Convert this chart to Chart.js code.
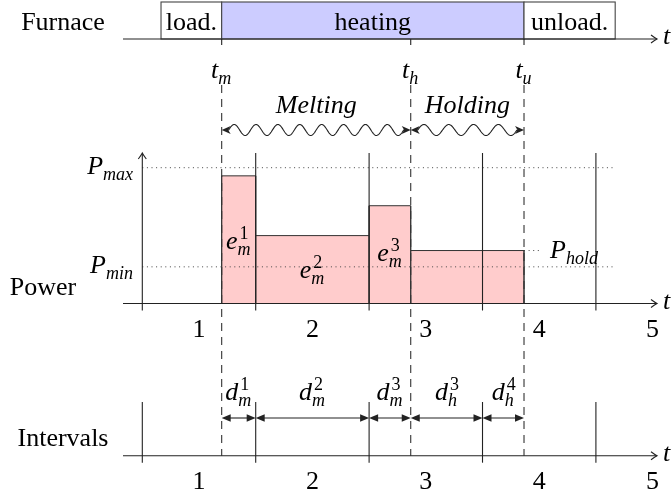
<!DOCTYPE html>
<html>
<head>
<meta charset="utf-8">
<script src="https://cdn.jsdelivr.net/npm/chart.js@4.4.1/dist/chart.umd.min.js"></script>
<style>
  html, body { margin: 0; padding: 0; background: #fff; }
  #wrap { width: 671px; height: 502px; }
</style>
</head>
<body>
<div id="wrap"><canvas id="chart" width="671" height="502"></canvas></div>
<script>
// time is in interval units, power in % of P_max
const intervalBounds = [0, 1, 2, 3, 4];
const intervalLabels = ["1", "2", "3", "4", "5"];

const phaseBounds = [0.165, 0.70, 3.366, 4.17];
const phaseNames = ["load.", "heating", "unload."];

const eventTimes = [0.70, 2.367, 3.366];
const eventLabels = ["m", "h", "u"];
const modeNames = ["Melting", "Holding"];

const blockStart = [0.70, 1, 2, 2.367];
const blockEnd = [1, 2, 2.367, 3.366];
const blockPower = [94, 50, 72, 39];
const blockLabels = ["1", "2", "3", ""];

const pMax = 100;
const pMin = 27;
const pHold = 39;

const durStart = [0.70, 1, 2, 2.367, 3];
const durEnd = [1, 2, 2.367, 3, 3.366];
const durSub = ["m", "m", "m", "h", "h"];
const durSup = ["1", "2", "3", "3", "4"];

// layout rows (pixels)
const ROW = {
  boxTop: 2, furnace: 39, eventLabel: 78, dashTop: 85, modeText: 113, wave: 130,
  powerTop: 153, durTop: 402, durArrow: 418, durLabel: 400, intervals: 455.7
};
const AXIS_X0 = 123, AXIS_X1 = 657;
const INK = "#222";
const SERIF = '"Liberation Serif", "DejaVu Serif", serif';
const BIG = 26, SMALL = 18;

function font(size, italic) {
  return (italic ? "italic " : "") + size + "px " + SERIF;
}

function text(ctx, s, x, y, align, italic) {
  ctx.font = font(BIG, italic);
  ctx.textAlign = align || "center";
  ctx.textBaseline = "alphabetic";
  ctx.fillStyle = "#000";
  ctx.fillText(s, x, y);
}

function mathText(ctx, base, sub, sup, x, y, align) {
  ctx.font = font(BIG, true);
  const wb = ctx.measureText(base).width;
  ctx.font = font(SMALL, true);
  const ws = sub ? ctx.measureText(sub).width : 0;
  ctx.font = font(SMALL, false);
  const wp = sup ? ctx.measureText(sup).width : 0;
  const w = wb + 1 + Math.max(ws, wp);
  const x0 = align === "left" ? x : align === "right" ? x - w : x - w / 2;
  ctx.textAlign = "left";
  ctx.textBaseline = "alphabetic";
  ctx.fillStyle = "#000";
  ctx.font = font(BIG, true);
  ctx.fillText(base, x0, y);
  if (sub) {
    ctx.font = font(SMALL, true);
    ctx.fillText(sub, x0 + wb, y + 6);
  }
  if (sup) {
    ctx.font = font(SMALL, false);
    ctx.fillText(sup, x0 + wb + 2, y - 10);
  }
}

function line(ctx, x1, y1, x2, y2) {
  ctx.beginPath();
  ctx.moveTo(x1, y1);
  ctx.lineTo(x2, y2);
  ctx.stroke();
}

function openHead(ctx, x, y, dx, dy) {
  // dx,dy: unit direction of the arrow
  const px = -dy, py = dx;
  ctx.beginPath();
  ctx.moveTo(x - dx * 6 + px * 4, y - dy * 6 + py * 4);
  ctx.quadraticCurveTo(x - dx * 2 + px * 1, y - dy * 2 + py * 1, x, y);
  ctx.quadraticCurveTo(x - dx * 2 - px * 1, y - dy * 2 - py * 1, x - dx * 6 - px * 4, y - dy * 6 - py * 4);
  ctx.stroke();
}

function filledHead(ctx, x, y, dir, len, half, inset) {
  ctx.beginPath();
  ctx.moveTo(x, y);
  ctx.lineTo(x - dir * len, y - half);
  ctx.lineTo(x - dir * (len - inset), y);
  ctx.lineTo(x - dir * len, y + half);
  ctx.closePath();
  ctx.fill();
}

function axis(ctx, y) {
  line(ctx, AXIS_X0, y, AXIS_X1, y);
  openHead(ctx, AXIS_X1, y, 1, 0);
  mathText(ctx, "t", "", "", AXIS_X1 + 6, y + 5, "left");
}

function wave(ctx, x1, x2, y) {
  const lead = 7, amp = 5.5, period = 23;
  const a = x1 + lead, b = x2 - lead;
  const n = Math.max(1, Math.round((b - a) / period));
  const p = (b - a) / n;
  ctx.beginPath();
  ctx.moveTo(x1 + 3, y);
  ctx.lineTo(a, y);
  for (let px = a; px <= b; px += 0.5) {
    ctx.lineTo(px, y - amp * Math.sin(2 * Math.PI * (px - a) / p));
  }
  ctx.lineTo(x2 - 3, y);
  ctx.stroke();
  filledHead(ctx, x1, y, -1, 9, 4, 2.5);
  filledHead(ctx, x2, y, 1, 9, 4, 2.5);
}

function dimArrow(ctx, x1, x2, y) {
  line(ctx, x1 + 4, y, x2 - 4, y);
  filledHead(ctx, x1, y, -1, 9, 3.8, 0);
  filledHead(ctx, x2, y, 1, 9, 3.8, 0);
}

const diagram = {
  id: "diagram",
  afterDatasetsDraw(chart) {
    const ctx = chart.ctx;
    const xs = chart.scales.x, ys = chart.scales.y;
    const X = (v) => xs.getPixelForValue(v);
    const Y = (v) => ys.getPixelForValue(v);
    const base = Y(0);

    ctx.save();
    ctx.strokeStyle = INK;
    ctx.fillStyle = INK;
    ctx.lineWidth = 1.1;

    // ---- furnace row
    text(ctx, "Furnace", 63, 30, "center");
    phaseNames.forEach((name, i) => {
      const x1 = X(phaseBounds[i]), x2 = X(phaseBounds[i + 1]);
      ctx.fillStyle = name === "heating" ? "#ccccff" : "#ffffff";
      ctx.fillRect(x1, ROW.boxTop, x2 - x1, ROW.furnace - ROW.boxTop);
      ctx.strokeStyle = "#444";
      ctx.strokeRect(x1, ROW.boxTop, x2 - x1, ROW.furnace - ROW.boxTop);
      text(ctx, name, (x1 + x2) / 2, 30, "center");
    });
    ctx.strokeStyle = INK;
    ctx.fillStyle = INK;
    axis(ctx, ROW.furnace);
    eventTimes.forEach((t, i) => {
      line(ctx, X(t), ROW.furnace, X(t), ROW.furnace + 6);
      mathText(ctx, "t", eventLabels[i], "", X(t), ROW.eventLabel, "center");
    });

    // ---- dashed event lines
    ctx.setLineDash([8, 6]);
    ctx.strokeStyle = "#333";
    eventTimes.forEach((t) => line(ctx, X(t), ROW.dashTop, X(t), ROW.intervals));
    ctx.setLineDash([]);
    ctx.strokeStyle = INK;
    ctx.fillStyle = INK;

    // ---- melting / holding
    modeNames.forEach((name, i) => {
      const x1 = X(eventTimes[i]), x2 = X(eventTimes[i + 1]);
      text(ctx, name, (x1 + x2) / 2, ROW.modeText, "center", true);
      ctx.fillStyle = INK;
      wave(ctx, x1, x2, ROW.wave);
    });

    // ---- power panel
    ctx.lineWidth = 1;
    ctx.strokeStyle = "#333";
    blockStart.forEach((s, i) => {
      line(ctx, X(s), base, X(s), Y(blockPower[i]));
      line(ctx, X(blockEnd[i]), base, X(blockEnd[i]), Y(blockPower[i]));
    });

    ctx.lineWidth = 1;
    ctx.strokeStyle = "#444";
    ctx.setLineDash([1, 3.6]);
    line(ctx, X(0), Y(pMax), X(phaseBounds[3]), Y(pMax));
    line(ctx, X(0), Y(pMin), X(phaseBounds[3]), Y(pMin));
    line(ctx, X(eventTimes[2]), Y(pHold), X(eventTimes[2]) + 16, Y(pHold));
    ctx.setLineDash([]);

    ctx.strokeStyle = INK;
    ctx.lineWidth = 1.1;
    intervalBounds.forEach((b, i) => {
      line(ctx, X(b), base + 7, X(b), i === 0 ? ROW.powerTop + 1 : ROW.powerTop);
    });
    openHead(ctx, X(0), ROW.powerTop, 0, -1);
    axis(ctx, base);

    text(ctx, "Power", 43, 295, "center");
    mathText(ctx, "P", "max", "", 134, Y(pMax) + 6, "right");
    mathText(ctx, "P", "min", "", 134, Y(pMin) + 6, "right");
    mathText(ctx, "P", "hold", "", 550, Y(pHold) + 7, "left");

    blockLabels.forEach((lab, i) => {
      if (!lab) return;
      const cx = X((blockStart[i] + blockEnd[i]) / 2);
      const yb = [249, 278, 261][i];
      mathText(ctx, "e", "m", lab, cx, yb, "center");
    });

    intervalLabels.forEach((lab, i) => {
      text(ctx, lab, X(intervalBounds[i] + 0.5), base + 33, "center");
    });

    // ---- intervals panel
    ctx.fillStyle = INK;
    intervalBounds.forEach((b) => line(ctx, X(b), ROW.durTop, X(b), ROW.intervals + 7));
    axis(ctx, ROW.intervals);
    text(ctx, "Intervals", 63, 446, "center");
    durStart.forEach((s, i) => {
      ctx.fillStyle = INK;
      dimArrow(ctx, X(s), X(durEnd[i]), ROW.durArrow);
      mathText(ctx, "d", durSub[i], durSup[i], X((s + durEnd[i]) / 2), ROW.durLabel, "center");
    });
    intervalLabels.forEach((lab, i) => {
      text(ctx, lab, X(intervalBounds[i] + 0.5), ROW.intervals + 33, "center");
    });

    ctx.restore();
  }
};

const profile = [{ x: blockStart[0], y: 0 }];
blockStart.forEach((s, i) => profile.push({ x: s, y: blockPower[i] }));
profile.push({ x: blockEnd[blockEnd.length - 1], y: blockPower[blockPower.length - 1] });
profile.push({ x: blockEnd[blockEnd.length - 1], y: 0 });

new Chart(document.getElementById("chart"), {
  type: "scatter",
  data: {
    datasets: [
      {
        label: "Power",
        data: profile,
        showLine: true,
        stepped: "before",
        fill: "origin",
        backgroundColor: "#ffcccc",
        borderColor: "#333",
        borderWidth: 1,
        pointRadius: 0,
      },
    ],
  },
  options: {
    responsive: false,
    animation: false,
    layout: { padding: 0 },
    plugins: {
      legend: { display: false },
      tooltip: { enabled: false },
    },
    scales: {
      x: { type: "linear", min: -1.2549, max: 4.6622, display: false },
      y: { type: "linear", min: -146.17, max: 223.49, display: false },
    },
  },
  plugins: [diagram],
});
</script>
</body>
</html>
